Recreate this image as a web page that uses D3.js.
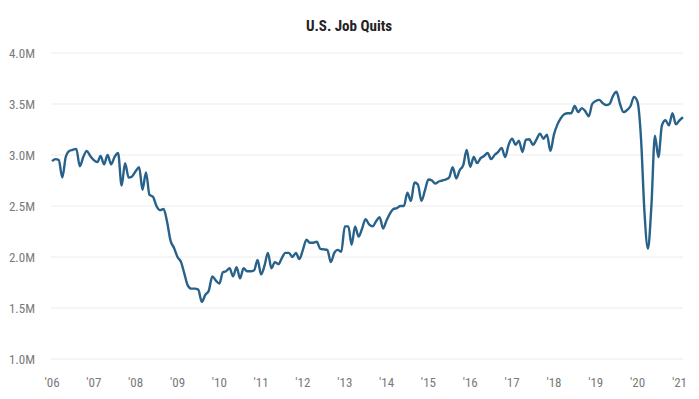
<!DOCTYPE html>
<html>
<head>
<meta charset="utf-8">
<script src="https://cdn.jsdelivr.net/npm/d3@7"></script>
<style>
  body { margin: 0; background: #fff; }
  svg text { font-family: "Liberation Sans Narrow", "Roboto Condensed", Roboto, sans-serif; }
</style>
</head>
<body>
<svg width="699" height="399"></svg>
<script>
// monthly quits, millions, starting Jan 2006
const startYear = 2006;
const quits = [
  2.94, 2.96, 2.95, 2.78, 2.98, 3.04, 3.05, 3.06, 2.89, 2.98, 3.04, 2.99,
  2.95, 2.93, 2.99, 2.91, 3.00, 2.91, 2.98, 3.02, 2.70, 2.92, 2.78, 2.79,
  2.84, 2.88, 2.66, 2.83, 2.61, 2.59, 2.50, 2.46, 2.47, 2.35, 2.16, 2.09,
  2.00, 1.95, 1.84, 1.72, 1.69, 1.69, 1.68, 1.56, 1.63, 1.67, 1.81, 1.77,
  1.74, 1.85, 1.86, 1.89, 1.81, 1.90, 1.79, 1.89, 1.86, 1.86, 1.87, 1.97,
  1.83, 1.92, 2.04, 1.89, 1.95, 1.93, 1.99, 2.04, 2.04, 2.00, 2.04, 1.98,
  2.07, 2.17, 2.14, 2.14, 2.15, 2.08, 2.075, 2.07, 1.95, 2.04, 2.07, 2.05,
  2.30, 2.30, 2.12, 2.30, 2.20, 2.28, 2.37, 2.32, 2.30, 2.35, 2.39, 2.28,
  2.36, 2.43, 2.47, 2.48, 2.50, 2.50, 2.63, 2.55, 2.73, 2.71, 2.55, 2.65,
  2.76, 2.75, 2.72, 2.74, 2.75, 2.76, 2.78, 2.88, 2.77, 2.85, 2.90, 3.05,
  2.885, 2.98, 2.92, 2.97, 2.99, 3.02, 2.96, 3.00, 3.03, 3.07, 2.98, 3.10,
  3.16, 3.10, 3.14, 3.03, 3.15, 3.155, 3.10, 3.15, 3.21, 3.16, 3.20, 3.04,
  3.20, 3.30, 3.36, 3.40, 3.41, 3.41, 3.48, 3.42, 3.46, 3.43, 3.38, 3.50,
  3.53, 3.54, 3.51, 3.49, 3.50, 3.58, 3.62, 3.50, 3.42, 3.44, 3.48, 3.57,
  3.52, 3.15, 2.45, 2.08, 2.50, 3.19, 2.98, 3.29, 3.34, 3.29, 3.41, 3.30,
  3.34, 3.37
];
const yTicks = [1.0, 1.5, 2.0, 2.5, 3.0, 3.5, 4.0];
const yearTicks = d3.range(2006, 2022);
const title = "U.S. Job Quits";

const data = quits.map((v, i) => ({ date: new Date(startYear, i, 1), value: v }));

const svg = d3.select("svg");
const padL = 52, padR = 683, padT = 53, padB = 359;

const x = d3.scaleTime()
  .domain(d3.extent(data, d => d.date))
  .range([padL, padR]);
const y = d3.scaleLinear()
  .domain([1.0, 4.0])
  .range([padB, padT]);

// gridlines + y labels
svg.append("g")
  .selectAll("line")
  .data(yTicks)
  .join("line")
  .attr("x1", padL - 1)
  .attr("x2", padR)
  .attr("y1", d => y(d))
  .attr("y2", d => y(d))
  .attr("stroke", "#ececec")
  .attr("stroke-width", 1);

svg.append("g")
  .selectAll("text")
  .data(yTicks)
  .join("text")
  .attr("x", 35)
  .attr("y", d => y(d))
  .attr("dy", "0.35em")
  .attr("text-anchor", "end")
  .attr("fill", "#7a7a7a")
  .attr("font-size", 13)
  .text(d => d.toFixed(1) + "M");

// x labels
svg.append("g")
  .selectAll("text")
  .data(yearTicks)
  .join("text")
  .attr("x", d => x(new Date(d, 0, 1)))
  .attr("y", 387)
  .attr("text-anchor", "middle")
  .attr("fill", "#7a7a7a")
  .attr("font-size", 13)
  .text(d => "'" + String(d).slice(2));

// line
const line = d3.line()
  .x(d => x(d.date))
  .y(d => y(d.value))
  .curve(d3.curveMonotoneX);

svg.append("path")
  .attr("d", line(data))
  .attr("fill", "none")
  .attr("stroke", "#28628a")
  .attr("stroke-width", 2.4)
  .attr("stroke-linejoin", "round");

// title
svg.append("text")
  .attr("x", 349)
  .attr("y", 31)
  .attr("text-anchor", "middle")
  .attr("font-weight", "bold")
  .attr("font-size", 15)
  .attr("fill", "#222")
  .text(title);
</script>
</body>
</html>
